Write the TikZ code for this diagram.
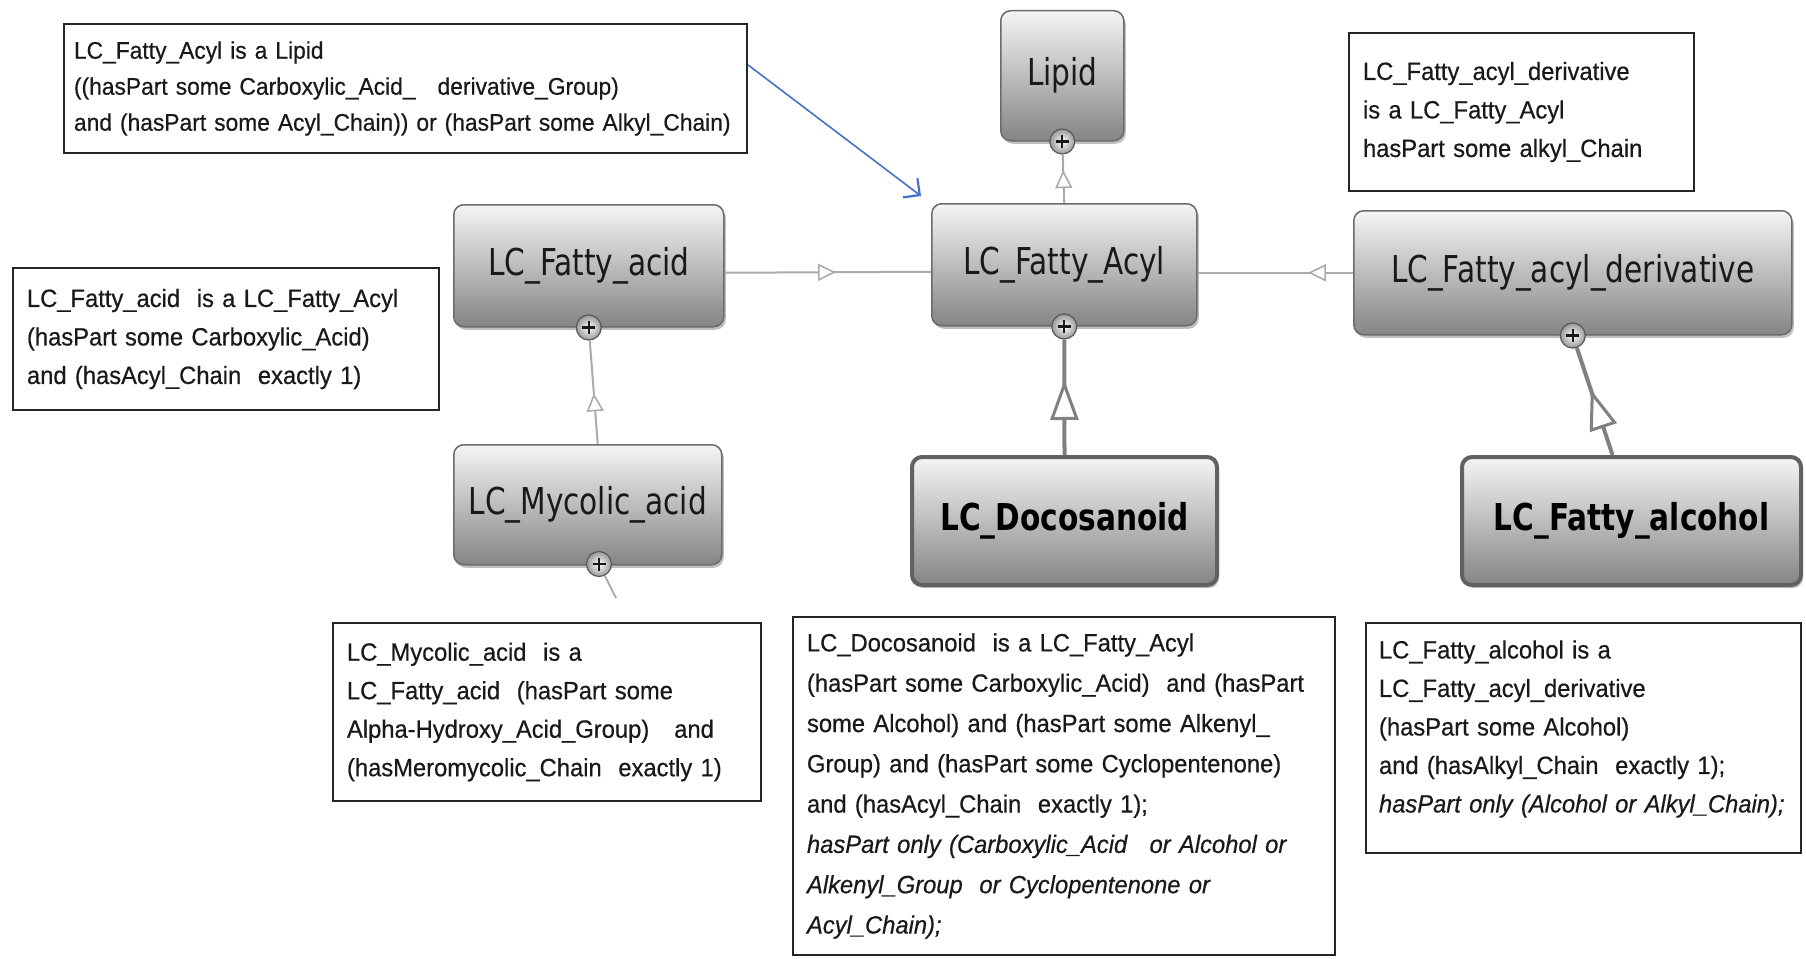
\documentclass[tikz,border=0pt]{standalone}
\usepackage{fontspec}
\newfontfamily\notefont{Liberation Sans}[FakeStretch=0.95, FakeBold=0.5]
\newfontfamily\classfont{DejaVu Sans}[FakeStretch=0.8]
\usetikzlibrary{arrows.meta,shadows,decorations.markings,calc}
\definecolor{notearrow}{RGB}{68,114,196}
\tikzset{
  classbox/.style={rectangle, rounded corners=10pt, anchor=north west, inner sep=0pt,
    draw=black!58, line width=1.5pt, top color=black!4, bottom color=black!48,
    drop shadow={shadow xshift=2pt, shadow yshift=-3pt, opacity=0.5},
    font=\classfont\fontsize{37}{40}\selectfont, text=black!90},
  keyclass/.style={classbox, line width=4pt, draw=black!62,
    font=\classfont\bfseries\fontsize{37}{40}\selectfont, text=black},
  notebox/.style={rectangle, anchor=north west, draw=black!85, line width=2pt, fill=white,
    inner xsep=14pt, inner ysep=0pt, align=left, text=black!90,
    font=\notefont\fontsize{25}{38.5}\selectfont},
  plusknob/.style={circle, minimum size=25pt, inner sep=0pt, draw=black!65, line width=1.2pt,
    inner color=white, outer color=black!40,
    path picture={\draw[line width=2.4pt, black!90]
      ($(path picture bounding box.center)+(-6.5,0)$) -- ++(13,0)
      ($(path picture bounding box.center)+(0,-6.5)$) -- ++(0,13);}},
  thinlink/.style={draw=black!33, line width=2pt},
  thicklink/.style={draw=black!50, line width=4pt},
  smalltri/.style={postaction={decorate, decoration={markings,
    mark=at position #1 with {\arrow{Triangle[length=18pt,width=17pt,fill=white,line width=1.6pt]}}}}},
  bigtri/.style={postaction={decorate, decoration={markings,
    mark=at position #1 with {\arrow{Triangle[length=40pt,width=28pt,fill=white,line width=3pt]}}}}},
  notelink/.style={draw=notearrow, line width=1.6pt,
    -{Straight Barb[length=12pt,width=24pt,line width=2.2pt]}}
}
\begin{document}
\begin{tikzpicture}[x=1pt, y=-1pt]
\fill[white] (0,0) rectangle (1806,958);
\useasboundingbox (0,0) rectangle (1806,958);

% ontology classes
\node[classbox, minimum width=123pt, minimum height=130pt] (lipid) at (1000,10) {Lipid};
\node[classbox, minimum width=270pt, minimum height=122pt] (facid) at (453,204) {LC\_Fatty\_acid};
\node[classbox, minimum width=265pt, minimum height=122pt] (facyl) at (931,203) {LC\_Fatty\_Acyl};
\node[classbox, minimum width=438pt, minimum height=124pt] (fderiv) at (1353,210) {LC\_Fatty\_acyl\_derivative};
\node[classbox, minimum width=268pt, minimum height=120pt] (myc) at (453,444) {LC\_Mycolic\_acid};
\node[keyclass, minimum width=305pt, minimum height=128pt] (doco) at (910,455) {LC\_Docosanoid};
\node[keyclass, minimum width=339pt, minimum height=128pt] (falc) at (1460,455) {LC\_Fatty\_alcohol};

% expand knobs
\node[plusknob] (lipidplus) at (lipid.south) {};
\node[plusknob] (facidplus) at (facid.south) {};
\node[plusknob] (facylplus) at (facyl.south) {};
\node[plusknob] (fderivplus) at (fderiv.south) {};
\node[plusknob] (mycplus) at (599,564) {};
\coordinate (mycstub) at (616,598);

% subclass links
\draw[thinlink, smalltri=0.68] (facyl.north) -- (lipidplus);
\draw[thinlink, smalltri=0.54] ([yshift=-7pt]facid.east) -- ([yshift=-7pt]facyl.west);
\draw[thinlink, smalltri=0.29] (fderiv.west) -- ([yshift=-8pt]facyl.east);
\draw[thinlink, smalltri=0.49] ([xshift=10pt]myc.north) -- (facidplus);
\draw[thinlink] (mycplus) -- (mycstub);
\draw[thicklink, bigtri=0.65] (doco.north) -- (facylplus);
\draw[thicklink, bigtri=0.61] ([xshift=-19pt]falc.north) -- (fderivplus);

% class definitions
\node[notebox, minimum width=683pt, minimum height=129pt, text width=663pt, inner xsep=10pt,
  font=\notefont\fontsize{24}{36}\selectfont] (noteacyl) at (63,23)
  {LC\_Fatty\_Acyl is a Lipid\\
   ((hasPart some Carboxylic\_Acid\_\hspace{14pt} derivative\_Group)\\
   and (hasPart some Acyl\_Chain)) or (hasPart some Alkyl\_Chain)};
\node[notebox, minimum width=345pt, minimum height=158pt, text width=317pt] (notederiv) at (1348,32)
  {LC\_Fatty\_acyl\_derivative\\
   is a LC\_Fatty\_Acyl\\
   hasPart some alkyl\_Chain};
\node[notebox, minimum width=426pt, minimum height=142pt, text width=398pt] (noteacid) at (12,267)
  {LC\_Fatty\_acid~ is a LC\_Fatty\_Acyl\\
   (hasPart some Carboxylic\_Acid)\\
   and (hasAcyl\_Chain~ exactly 1)};
\node[notebox, minimum width=428pt, minimum height=178pt, text width=400pt] (notemyc) at (332,622)
  {LC\_Mycolic\_acid~ is a\\
   LC\_Fatty\_acid~ (hasPart some\\
   Alpha-Hydroxy\_Acid\_Group)~~ and\\
   (hasMeromycolic\_Chain~ exactly 1)};
\node[notebox, minimum width=542pt, minimum height=338pt, text width=514pt,
  font=\notefont\fontsize{25}{40.3}\selectfont] (notedoco) at (792,616)
  {LC\_Docosanoid~ is a LC\_Fatty\_Acyl\\
   (hasPart some Carboxylic\_Acid)~ and (hasPart\\
   some Alcohol) and (hasPart some Alkenyl\_\\
   Group) and (hasPart some Cyclopentenone)\\
   and (hasAcyl\_Chain~ exactly 1);\\
   \itshape hasPart only (Carboxylic\_Acid\hspace{14pt} or Alcohol or\\
   Alkenyl\_Group~ or Cyclopentenone or\\
   Acyl\_Chain);};
\node[notebox, minimum width=435pt, minimum height=230pt, text width=409pt, inner xsep=13pt] (notealc) at (1365,622)
  {LC\_Fatty\_alcohol is a\\
   LC\_Fatty\_acyl\_derivative\\
   (hasPart some Alcohol)\\
   and (hasAlkyl\_Chain~ exactly 1);\\
   \itshape hasPart only (Alcohol or Alkyl\_Chain);\par\vspace*{18pt}};

% pointer from the definition to its class
\draw[notelink] ($(noteacyl.north east)!0.32!(noteacyl.south east)$) -- ($(facyl.north west)+(-10,-7)$);
\end{tikzpicture}
\end{document}
